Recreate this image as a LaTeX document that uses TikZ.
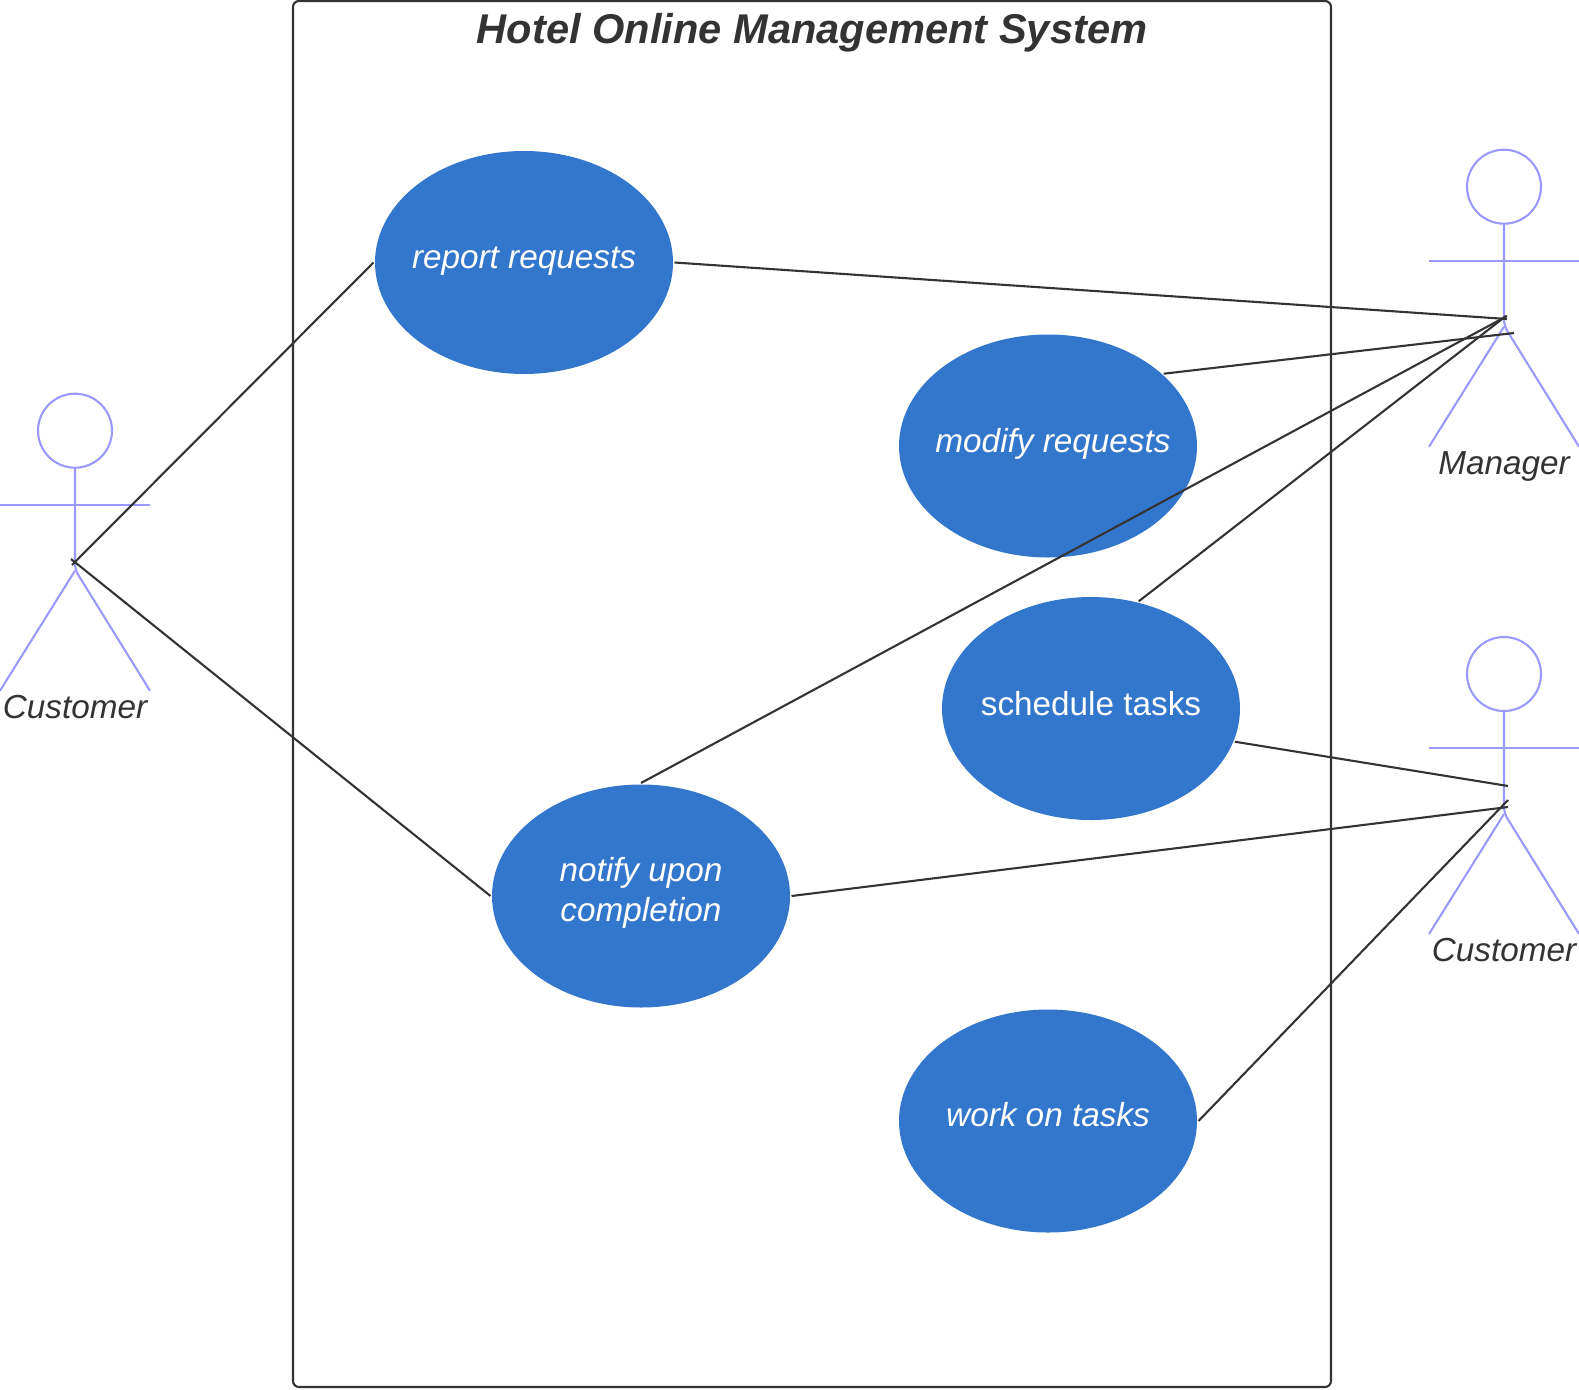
\documentclass[tikz,border=0pt]{standalone}
\usepackage{fontspec}
\setmainfont{Liberation Sans}
\usetikzlibrary{shapes.geometric}
\definecolor{ink}{HTML}{333333}
\definecolor{usecol}{HTML}{3377CC}
\definecolor{actcol}{HTML}{9999FF}

\begin{document}
\begin{tikzpicture}[
  x=1pt, y=-1pt,
  usecase/.style={ellipse, fill=usecol, minimum width=298pt, minimum height=223pt, inner sep=0pt, outer sep=1.5pt},
  uselabel/.style={text=white, align=center, inner sep=0pt, font=\fontsize{33.3}{39.5}\selectfont},
  itlabel/.style={uselabel, font=\fontsize{33.3}{39.5}\selectfont\itshape},
  link/.style={draw=ink, line width=2.1pt},
  actor/.pic={
    \draw[actcol, line width=2.1pt] (0,0) circle (37pt);
    \draw[actcol, line width=2.1pt] (-75,74) -- (75,74);
    \draw[actcol, line width=2.1pt, rounded corners=6pt] (0,37) -- (0,139) -- (75,260);
    \draw[actcol, line width=2.1pt] (-75,260) -- (0,140);
    \node[text=ink, inner sep=0pt, text height=24pt, text depth=7pt, font=\fontsize{33.3}{39.5}\selectfont\itshape] (-label) at (0,279) {#1};
  }
]
\useasboundingbox (0,0) rectangle (1579,1389);
\node[draw=ink, line width=2.1pt, rounded corners=6pt, minimum width=1038pt, minimum height=1386pt, inner sep=0pt] (sys) at (812,694) {};
\node[text=ink, inner sep=0pt, font=\fontsize{41.6}{48}\selectfont\bfseries\itshape] (title) at (812,33) {Hotel Online Management System};

\node[usecase] (report) at (524,262.5) {};
\node[usecase] (modify) at (1048,446) {};
\node[usecase] (schedule) at (1091,708.5) {};
\node[usecase] (notify) at (641,896) {};
\node[usecase] (work) at (1048,1121) {};
\node[itlabel] (reportlbl) at (524,261) {report requests};
\node[itlabel] (modifylbl) at (1053,444) {modify requests};
\node[uselabel] (schedulelbl) at (1091,703.5) {schedule tasks};
\node[itlabel] (notifylbl) at (641,893) {notify upon\\completion};
\node[itlabel] (worklbl) at (1048,1115) {work on tasks};

\pic (client) at (75,430.7) {actor=Customer};
\pic (manager) at (1504,186.7) {actor=Manager};
\pic (worker) at (1504,674) {actor=Customer};

\coordinate (clientA) at (72,565);
\coordinate (clientB) at (71,559);
\coordinate (managerA) at (1507,319);
\coordinate (managerB) at (1514,333);
\coordinate (managerC) at (1507,316);
\coordinate (managerD) at (1506,316);
\coordinate (workerA) at (1508,786);
\coordinate (workerB) at (1508,807);
\coordinate (workerC) at (1508,800);

\draw[link] (report.west) -- (clientA);
\draw[link] (notify.west) -- (clientB);
\draw[link] (report.east) -- (managerA);
\draw[link] (modify.32) -- (managerB);
\draw[link] (notify.north) -- (managerC);
\draw[link] (schedule.66) -- (managerD);
\draw[link] (schedule.-13.5) -- (workerA);
\draw[link] (notify.east) -- (workerB);
\draw[link] (work.east) -- (workerC);
\end{tikzpicture}
\end{document}
